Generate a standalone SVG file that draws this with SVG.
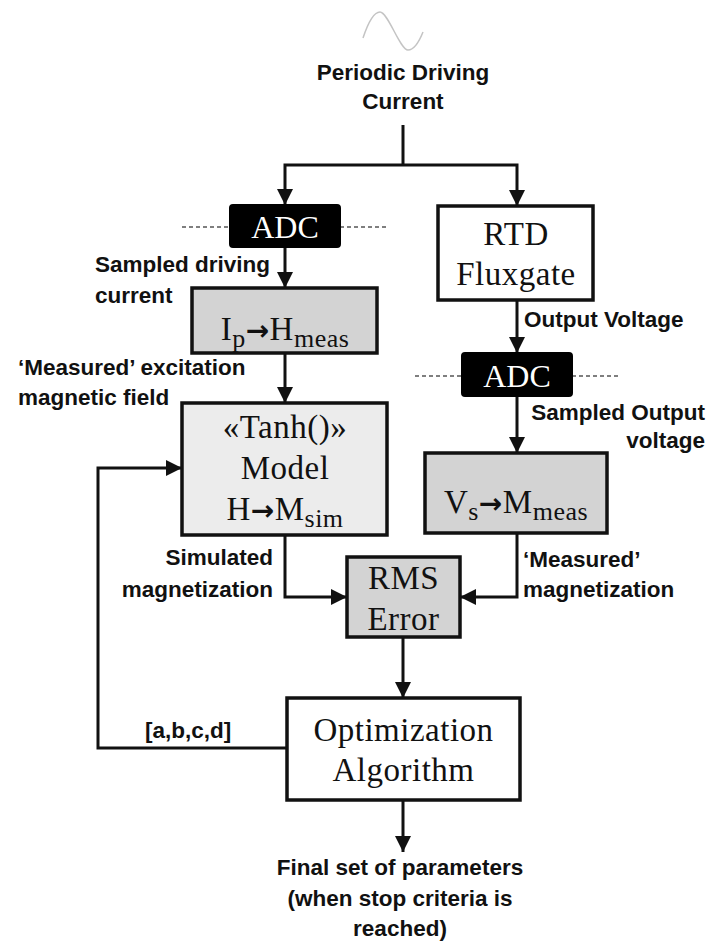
<svg xmlns="http://www.w3.org/2000/svg" width="709" height="943" viewBox="0 0 709 943">
<style>
.lbl{font-family:"Liberation Sans",Arial,sans-serif;font-weight:bold;font-size:22.5px;fill:#111}
.bx{font-family:"Liberation Serif","Times New Roman",serif;font-size:33px;letter-spacing:0.5px;fill:#111;text-anchor:middle}
.sub{font-size:26px}
.arr{font-family:"DejaVu Sans",sans-serif;font-weight:bold;font-size:28px}
.adc{font-family:"Liberation Serif","Times New Roman",serif;font-size:32px;fill:#fff;text-anchor:middle}
.box{stroke:#111;stroke-width:3.5}
.white{fill:#fff}
.gray{fill:#d3d3d3}
.light{fill:#ececec}
.black{fill:#000;stroke:#000;stroke-width:2}
.con{fill:none;stroke:#111;stroke-width:3}
.dash{fill:none;stroke:#555;stroke-width:1.5;stroke-dasharray:4 3}
</style>
<defs>
<marker id="ah" viewBox="0 0 10 10" refX="10" refY="5" markerWidth="16" markerHeight="18" markerUnits="userSpaceOnUse" orient="auto">
<path d="M0,0 L10,5 L0,10 z" fill="#111"/>
</marker>
</defs>

<g id="source">
<path d="M363,38 C369,20 374,12 380,12 C388,12 400,50 408,50 C414,50 419,42 423,32" fill="none" stroke="#c4c4c4" stroke-width="1.5"/>
<text class="lbl" x="403" y="80" text-anchor="middle">Periodic Driving</text>
<text class="lbl" x="403" y="109" text-anchor="middle">Current</text>
</g>

<g id="connectors">
<path class="con" d="M403,125 V165"/>
<path class="con" d="M403,165 H285 V205" marker-end="url(#ah)"/>
<path class="con" d="M403,165 H517 V206" marker-end="url(#ah)"/>
<path class="con" d="M285,247 V288" marker-end="url(#ah)"/>
<path class="con" d="M285,353 V403" marker-end="url(#ah)"/>
<path class="con" d="M517,300 V353" marker-end="url(#ah)"/>
<path class="con" d="M517,396 V453" marker-end="url(#ah)"/>
<path class="con" d="M285,535 V597 H347" marker-end="url(#ah)"/>
<path class="con" d="M517,533 V597 H460" marker-end="url(#ah)"/>
<path class="con" d="M403,637 V698" marker-end="url(#ah)"/>
<path class="con" d="M287,748 H98 V468 H182" marker-end="url(#ah)"/>
<path class="con" d="M403,800 V852" marker-end="url(#ah)"/>
<path class="dash" d="M182,227 H230 M340,227 H388"/>
<path class="dash" d="M415,376 H462 M572,376 H620"/>
</g>

<g id="adc1">
<rect class="black" x="230" y="205" width="110" height="42" rx="3"/>
<text class="adc" x="285" y="238">ADC</text>
</g>

<g id="rtd">
<rect class="box white" x="438" y="206" width="155" height="94"/>
<text class="bx" x="516" y="245">RTD</text>
<text class="bx" x="516" y="285">Fluxgate</text>
</g>

<g id="ip2h">
<rect class="box gray" x="192" y="288" width="185" height="65"/>
<text class="bx" x="285" y="340">I<tspan class="sub" dy="7">p</tspan><tspan class="arr" dy="-7">→</tspan>H<tspan class="sub" dy="7">meas</tspan></text>
</g>

<g id="adc2">
<rect class="black" x="462" y="353" width="110" height="43" rx="3"/>
<text class="adc" x="517" y="387">ADC</text>
</g>

<g id="model">
<rect class="box light" x="182" y="403" width="205" height="132"/>
<text class="bx" x="285" y="438">«Tanh()»</text>
<text class="bx" x="285" y="479">Model</text>
<text class="bx" x="285" y="520">H<tspan class="arr">→</tspan>M<tspan class="sub" dy="7">sim</tspan></text>
</g>

<g id="vs2m">
<rect class="box gray" x="425" y="453" width="182" height="80"/>
<text class="bx" x="516" y="513">V<tspan class="sub" dy="7">s</tspan><tspan class="arr" dy="-7">→</tspan>M<tspan class="sub" dy="7">meas</tspan></text>
</g>

<g id="rms">
<rect class="box gray" x="347" y="557" width="113" height="80"/>
<text class="bx" x="403.5" y="589">RMS</text>
<text class="bx" x="403.5" y="630">Error</text>
</g>

<g id="opt">
<rect class="box white" x="287" y="698" width="233" height="102"/>
<text class="bx" x="403.5" y="741">Optimization</text>
<text class="bx" x="403.5" y="781">Algorithm</text>
</g>

<g id="labels">
<text class="lbl" x="95" y="272">Sampled driving</text>
<text class="lbl" x="95" y="303">current</text>
<text class="lbl" x="18" y="375">‘Measured’ excitation</text>
<text class="lbl" x="18" y="405">magnetic field</text>
<text class="lbl" x="524" y="327">Output Voltage</text>
<text class="lbl" x="705" y="420" text-anchor="end">Sampled Output</text>
<text class="lbl" x="705" y="448" text-anchor="end">voltage</text>
<text class="lbl" x="273" y="565" text-anchor="end">Simulated</text>
<text class="lbl" x="273" y="597" text-anchor="end">magnetization</text>
<text class="lbl" x="523" y="567">‘Measured’</text>
<text class="lbl" x="523" y="597">magnetization</text>
<text class="lbl" x="145" y="738">[a,b,c,d]</text>
<text class="lbl" x="400" y="875" text-anchor="middle">Final set of parameters</text>
<text class="lbl" x="400" y="906" text-anchor="middle">(when stop criteria is</text>
<text class="lbl" x="400" y="936" text-anchor="middle">reached)</text>
</g>
</svg>
